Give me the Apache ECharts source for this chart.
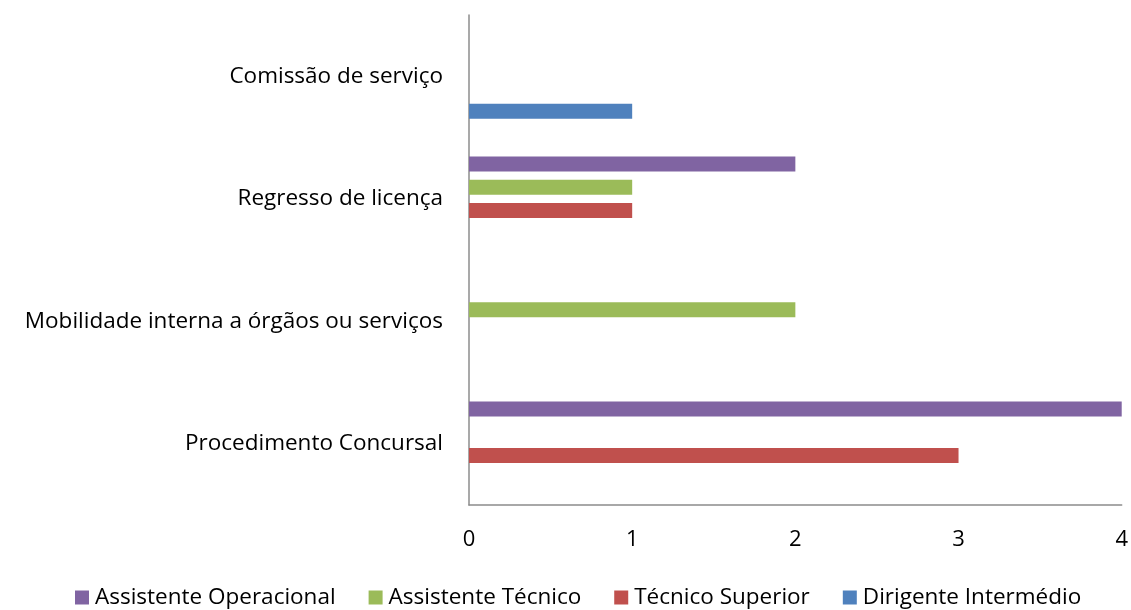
<!DOCTYPE html>
<html>
<head>
<meta charset="utf-8">
<script src="https://cdn.jsdelivr.net/npm/echarts@6/dist/echarts.min.js"></script>
<style>
  html, body { margin: 0; padding: 0; background: #fff; }
  #chart { width: 1131px; height: 610px; }
</style>
</head>
<body>
<div id="chart"></div>
<script>
// categories, bottom to top
var categories = ['Procedimento Concursal', 'Mobilidade interna a órgãos ou serviços', 'Regresso de licença', 'Comissão de serviço'];
var xTicks = [0, 1, 2, 3, 4];

var assistenteOperacional = [4, 0, 2, 0];
var assistenteTecnico = [0, 2, 1, 0];
var tecnicoSuperior = [3, 0, 1, 0];
var dirigenteIntermedio = [0, 0, 0, 1];

var font = 'Open Sans';

var chart = echarts.init(document.getElementById('chart'), null, { renderer: 'canvas' });

function bar(name, data, color) {
    return {
        name: name,
        type: 'bar',
        data: data,
        barWidth: 15,
        barGap: '55%',
        itemStyle: { color: color },
        emphasis: { disabled: true }
    };
}

chart.setOption({
    animation: false,
    grid: { left: 469, right: 9, top: 15, bottom: 105, containLabel: false },
    legend: {
        top: 581,
        left: 70,
        itemWidth: 14,
        itemHeight: 14,
        itemGap: 33,
        icon: 'rect',
        textStyle: { fontFamily: font, fontSize: 22.5, color: '#000', padding: [0, 0, 0, 1] },
        data: ['Assistente Operacional', 'Assistente Técnico', 'Técnico Superior', 'Dirigente Intermédio']
    },
    xAxis: {
        type: 'value',
        min: xTicks[0],
        max: xTicks[xTicks.length - 1],
        interval: 1,
        axisLine: { show: true, lineStyle: { color: '#8c8c8c', width: 1.5 } },
        axisTick: { show: false },
        splitLine: { show: false },
        axisLabel: { margin: 24, fontFamily: font, fontSize: 22, color: '#000' }
    },
    yAxis: {
        type: 'category',
        data: categories,
        axisLine: { show: true, lineStyle: { color: '#8c8c8c', width: 1.5 } },
        axisTick: { show: false },
        axisLabel: { margin: 26, fontFamily: font, fontSize: 22.5, color: '#000' }
    },
    series: [
        bar('Assistente Operacional', assistenteOperacional, '#8064A2'),
        bar('Assistente Técnico', assistenteTecnico, '#9BBB59'),
        bar('Técnico Superior', tecnicoSuperior, '#C0504D'),
        bar('Dirigente Intermédio', dirigenteIntermedio, '#4F81BD')
    ]
});
</script>
</body>
</html>
